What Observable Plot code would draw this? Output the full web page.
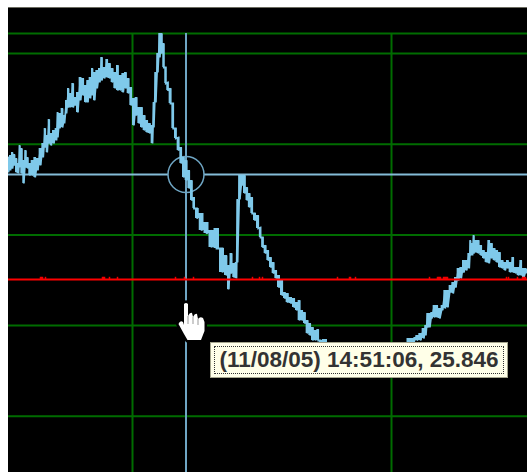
<!DOCTYPE html>
<html><head><meta charset="utf-8">
<script src="https://cdn.jsdelivr.net/npm/d3@7"></script>
<script src="https://cdn.jsdelivr.net/npm/@observablehq/plot@0.6"></script>
<style>
html,body{margin:0;padding:0;background:#fff;overflow:hidden}
#page{position:relative;width:527px;height:472px;overflow:hidden}
#chart{position:absolute;left:8px;top:8px}
#chart svg{display:block}
#bar{position:absolute;left:8px;top:7px;width:519px;height:1px;background:#6b6b60}
#tip{position:absolute;left:210px;top:342px;width:296px;height:34px;background:#ffffe8;border:1px solid #a5a58c}
#tip span{position:absolute;left:3px;top:3px;right:3px;bottom:3px;border:1.5px dotted #333;box-sizing:border-box;
 font:bold 22.5px/25px "Liberation Sans",sans-serif;color:#333;text-align:center;white-space:nowrap;letter-spacing:0}
#hand{position:absolute;left:0;top:0;pointer-events:none}
</style></head><body>
<div id="page"><div id="bar"></div><div id="chart"></div>
<svg id="hand" width="527" height="472">
<path id="h1" d="M184 304Q186 302 188 304V316Q190 312 192 313L193 317Q195 313 197 314L198 319Q200 316 203 318L204.500 322V331L201 340H187.500L184 334L178.500 324Q180 320 183 322L184 325Z" fill="#fff" stroke="#000" stroke-width="5" stroke-linejoin="round"/>
<path d="M184 304Q186 302 188 304V316Q190 312 192 313L193 317Q195 313 197 314L198 319Q200 316 203 318L204.500 322V331L201 340H187.500L184 334L178.500 324Q180 320 183 322L184 325Z" fill="#fff"/>
<path d="M188 316V324M193 317V324M198 319V325" stroke="#999" stroke-width="1" fill="none"/>
</svg>
<div id="tip"><span>(11/08/05) 14:51:06, 25.846</span></div></div>
<script>
const gridY = [26.551, 26.451, 25.997, 25.544, 25.091, 24.637];
const gridX = [132, 391];
const redLevel = 25.321;
const redBlipX = [40,41,42,45,102,103,104,109,117,175,184,193,252,259,262,337,349,350,355,429,437,438,439,440,443,444,445,446,447,506,508,517,522,523,524,525];
const cursorX = 185.5, cursorY = 25.846;
const traceX = [8,10,12,14,16,18,19.3,21.3,23.3,25.3,27.3,29.3,32,34.7,37.3,40,42.7,44.7,46.7,48.7,50.7,53.3,56,57.3,59.3,62,64,66,68,70,72.7,74.7,77.3,80,82.7,85.3,87.3,90,92,94,96.7,99.3,101.3,104,106.7,109.3,112,114.7,117.3,120,122.7,125.3,128,130.7,133.3,136,138.7,141.3,144,146.7,149.3,152,153.3,155.3,157.3,159.3,161.3,163.3,165.3,167.3,170,172.7,175.3,178,180.7,183.3,186,188.7,191.3,193.5,196.5,201,206,211,216,222,226,228,231,233.5,236,237,239.3,241.7,244.3,246.7,249,251.7,254.3,257.7,260,262.3,265,267.7,270.3,273,275.7,278.3,281.7,284.3,287,290.3,293.7,296.3,299,301.7,304.3,307,309.7,312.3,315,317.7,320,324,330,345,360,380,400,413,414,416.7,420,423.3,425.3,427.3,429.3,431.3,434,436.7,439.3,442,444.7,447.3,450,452.7,455.3,458,460.7,463.3,466,468.7,470,472,473.3,475.3,478,480.7,483.3,486,488.7,491.3,494,496.7,499.3,502,504.7,507.3,510,512.7,515.3,518,520.7,523.3,526];
const traceHigh = [25.931,25.941,25.956,25.946,25.926,25.901,25.991,25.976,25.916,25.966,25.931,25.901,25.916,25.931,25.926,25.976,26.001,26.076,26.041,26.121,26.051,26.066,26.076,26.156,26.151,26.176,26.141,26.216,26.276,26.251,26.301,26.231,26.256,26.331,26.326,26.291,26.316,26.331,26.376,26.356,26.366,26.376,26.431,26.381,26.421,26.401,26.376,26.356,26.391,26.341,26.351,26.356,26.326,26.281,26.226,26.231,26.181,26.181,26.141,26.116,26.101,26.091,26.206,26.356,26.451,26.551,26.551,26.501,26.381,26.306,26.276,26.201,26.076,26.031,25.981,25.931,25.916,25.866,25.816,25.731,25.676,25.651,25.606,25.566,25.576,25.476,25.441,25.391,25.451,25.401,25.406,25.721,25.841,25.841,25.841,25.781,25.751,25.731,25.651,25.641,25.581,25.531,25.491,25.466,25.431,25.406,25.366,25.341,25.316,25.256,25.251,25.231,25.226,25.206,25.216,25.166,25.156,25.116,25.101,25.081,25.066,25.071,25.016,25.021,24.976,24.941,24.966,24.956,24.976,25.026,25.031,25.041,25.051,25.076,25.091,25.151,25.151,25.156,25.191,25.191,25.176,25.191,25.266,25.266,25.291,25.306,25.331,25.376,25.381,25.416,25.416,25.451,25.516,25.501,25.541,25.516,25.516,25.491,25.466,25.456,25.516,25.501,25.476,25.466,25.456,25.416,25.406,25.416,25.406,25.431,25.381,25.381,25.416,25.376,25.376];
const traceLow = [25.856,25.866,25.876,25.891,25.856,25.851,25.881,25.851,25.801,25.881,25.876,25.841,25.841,25.831,25.866,25.891,25.931,25.981,25.956,26.001,25.991,26.001,26.016,26.031,26.076,26.081,26.101,26.151,26.181,26.181,26.181,26.191,26.156,26.216,26.241,26.206,26.206,26.226,26.241,26.216,26.276,26.306,26.316,26.326,26.331,26.326,26.306,26.276,26.266,26.266,26.256,26.276,26.251,26.191,26.091,26.141,26.101,26.081,26.066,26.056,26.051,26.001,26.081,26.206,26.356,26.431,26.451,26.381,26.301,26.266,26.201,26.076,26.026,25.966,25.901,25.831,25.816,25.776,25.716,25.676,25.626,25.566,25.551,25.481,25.476,25.356,25.341,25.271,25.351,25.331,25.326,25.406,25.721,25.791,25.751,25.716,25.681,25.651,25.616,25.576,25.531,25.481,25.451,25.416,25.381,25.351,25.326,25.281,25.241,25.226,25.206,25.201,25.181,25.166,25.116,25.116,25.101,25.051,25.041,25.016,25.016,25.016,24.936,24.916,24.866,24.856,24.866,24.856,24.876,24.966,25.016,25.016,25.016,25.026,25.041,25.081,25.081,25.126,25.131,25.131,25.126,25.166,25.176,25.181,25.256,25.251,25.281,25.316,25.326,25.356,25.366,25.376,25.441,25.441,25.451,25.456,25.451,25.441,25.426,25.406,25.401,25.426,25.416,25.406,25.381,25.376,25.366,25.376,25.356,25.356,25.351,25.341,25.341,25.331,25.356];
const band = traceX.map((x, i) => ({x, high: traceHigh[i], low: traceLow[i]}));
const zig = traceX.flatMap((x, i) => [{x, y: traceHigh[i]}, {x, y: traceLow[i]}]);
const green = "#006c00", sky = "#7fc9ea", cur = "#84bcd8";
const cy = 26.551, by = 24.356;
const chart = Plot.plot({
  width: 519, height: 464, margin: 0,
  x: {domain: [8, 527], axis: null},
  y: {domain: [24.356, 26.676], axis: null},
  style: {background: "#000"},
  marks: [
    Plot.ruleY(gridY, {stroke: green, strokeWidth: 2}),
    Plot.ruleX(gridX, {y1: cy, y2: by, stroke: green, strokeWidth: 2}),
    Plot.ruleY([cursorY], {stroke: cur, strokeWidth: 2}),
    Plot.ruleX([cursorX], {y1: cy, y2: by, stroke: "#6fa6c4", strokeWidth: 2}),
    Plot.dot([{x: cursorX, y: cursorY}], {x: "x", y: "y", r: 18, fill: "#000", stroke: "#6fa6c4", strokeWidth: 1.5}),
    Plot.ruleX([cursorX], {y1: cursorY + 0.09, y2: cursorY - 0.09, stroke: "#6fa6c4", strokeWidth: 2}),
    Plot.areaY(band, {x: "x", y1: "low", y2: "high", curve: "step", fill: sky}),
    Plot.line(zig, {x: "x", y: "y", stroke: sky, strokeWidth: 1.8, strokeLinejoin: "miter", strokeMiterlimit: 2}),
    Plot.ruleY([redLevel], {stroke: "#ff0000", strokeWidth: 2}),
    Plot.ruleX(redBlipX, {y1: redLevel, y2: redLevel + 0.011, stroke: "#f00000", strokeWidth: 1.5})
  ]
});
document.getElementById("chart").append(chart);
</script></body></html>
